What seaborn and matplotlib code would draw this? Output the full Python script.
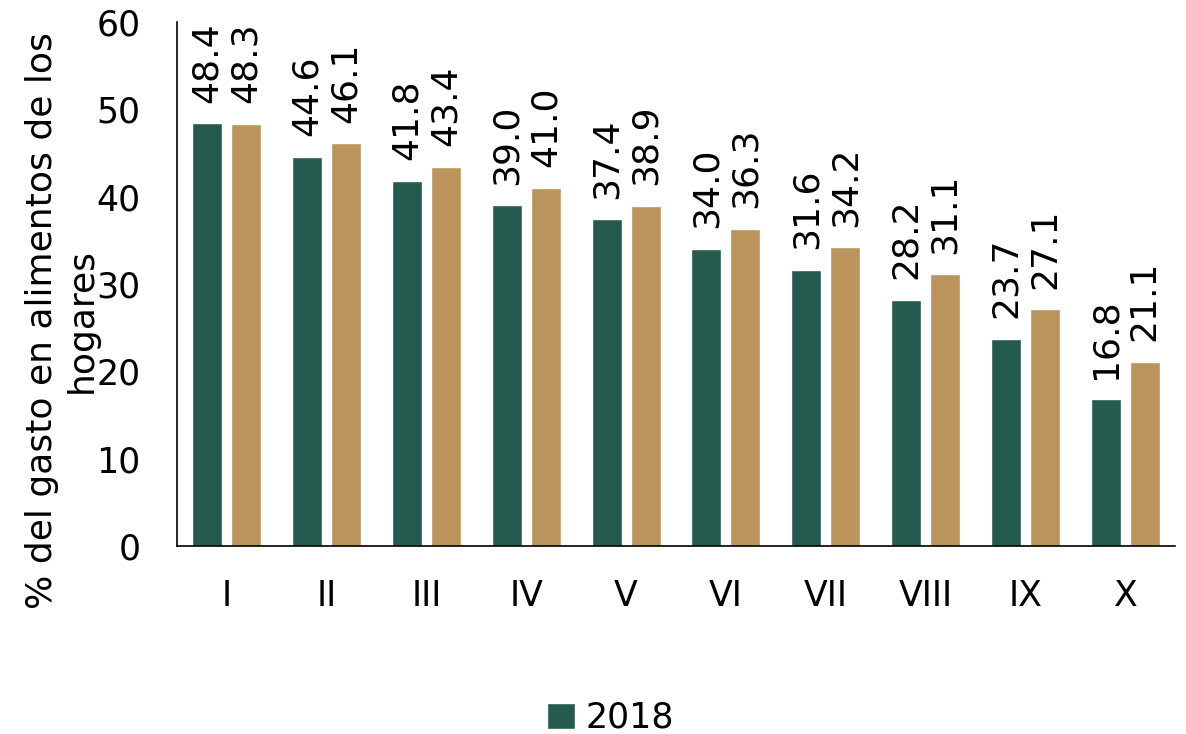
import matplotlib
matplotlib.use("Agg")
import matplotlib.pyplot as plt
import pandas as pd
import seaborn as sns

deciles = ["I", "II", "III", "IV", "V", "VI", "VII", "VIII", "IX", "X"]
serie_2018 = [48.4, 44.6, 41.8, 39.0, 37.4, 34.0, 31.6, 28.2, 23.7, 16.8]
serie_2020 = [48.3, 46.1, 43.4, 41.0, 38.9, 36.3, 34.2, 31.1, 27.1, 21.1]
years = ["2018", "2020"]
colors = ["#245B4E", "#BA945B"]

df = pd.DataFrame({
    "decil": deciles * 2,
    "valor": serie_2018 + serie_2020,
    "anio": [years[0]] * len(deciles) + [years[1]] * len(deciles),
})

sns.set_style("white")
plt.rcParams["font.family"] = ["DejaVu Sans"]
plt.rcParams["text.color"] = "black"
plt.rcParams["axes.labelcolor"] = "black"
plt.rcParams["xtick.color"] = "black"
plt.rcParams["ytick.color"] = "black"

fig = plt.figure(figsize=(11.86, 7.34), dpi=100)
ax = fig.add_axes([0.149, 0.256, 0.842, 0.714])

sns.barplot(data=df, x="decil", y="valor", hue="anio", palette=colors,
            saturation=1, width=0.78, gap=0.23, ax=ax, legend=True)

# etiquetas verticales sobre cada barra
for cont in ax.containers:
    ax.bar_label(cont, fmt="%.1f", rotation=90, padding=15, fontsize=26)

ax.set_ylim(0, 60)
ax.set_xlim(-0.5, 9.5)
ax.set_yticks(range(0, 61, 10))
ax.tick_params(axis="both", length=0, labelsize=25)
ax.tick_params(axis="x", pad=24)
ax.tick_params(axis="y", pad=26)
ax.set_xlabel("")
ax.set_ylabel("% del gasto en alimentos de los\nhogares", fontsize=26)
ax.yaxis.set_label_coords(-0.078, 0.43)

for side in ["top", "right"]:
    ax.spines[side].set_visible(False)
for side in ["left", "bottom"]:
    ax.spines[side].set_color("black")
    ax.spines[side].set_linewidth(1.2)

handles, labels = ax.get_legend_handles_labels()
ax.legend(handles[:1], labels[:1], loc="center", bbox_to_anchor=(0.515, 0.022),
          bbox_transform=fig.transFigure, frameon=False, fontsize=25,
          handlelength=0.8, handleheight=0.8, handletextpad=0.3)

fig.savefig("out.png", dpi=100)
